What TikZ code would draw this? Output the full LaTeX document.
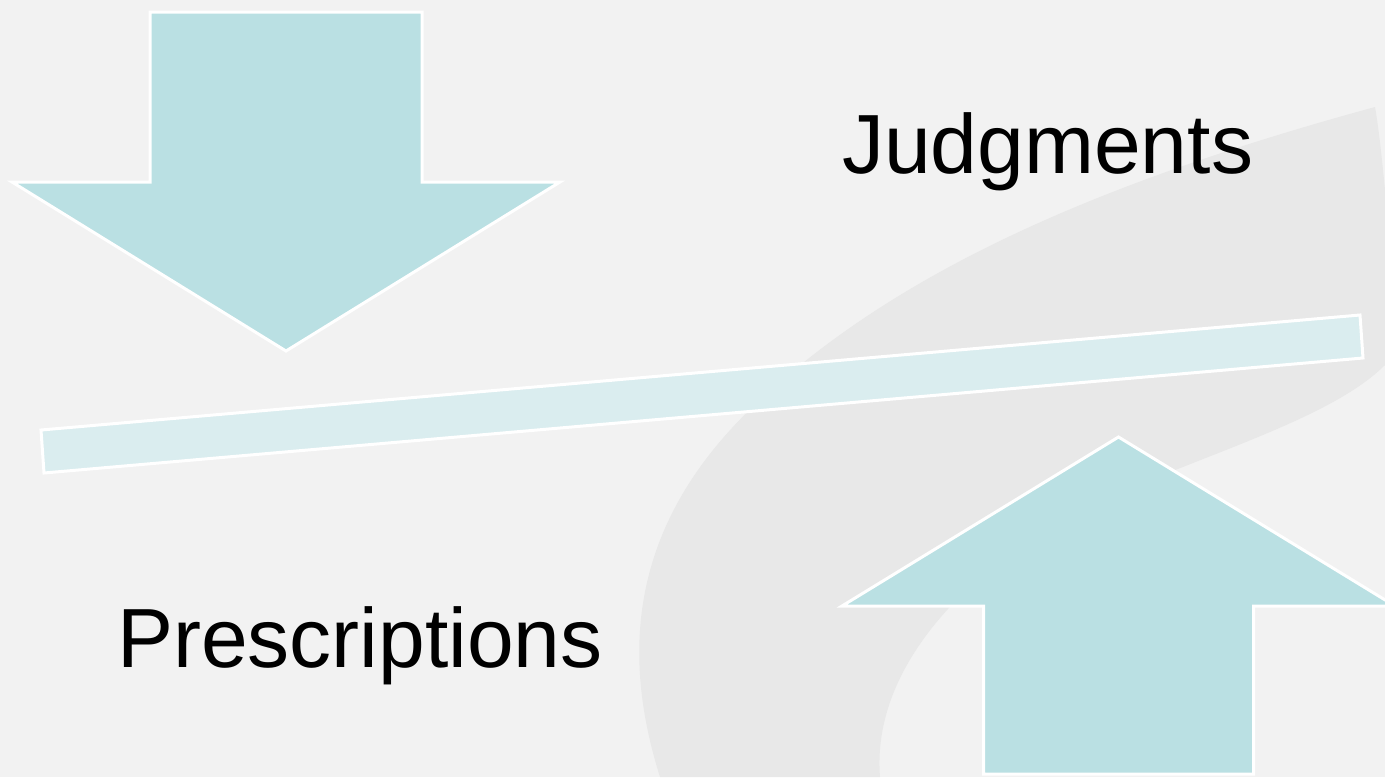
\documentclass[tikz,border=0pt]{standalone}
\usepackage{fontspec}
\setmainfont{Liberation Sans}
\definecolor{bg}{HTML}{F2F2F2}
\definecolor{swoosh}{HTML}{E8E8E8}
\definecolor{arrowfill}{HTML}{BAE0E3}
\definecolor{barfill}{HTML}{DAEDEF}
\tikzset{
  shapeline/.style={draw=white, line width=3pt, line join=miter},
  label/.style={font=\fontsize{84}{90}\selectfont, inner sep=0pt, text=black}
}
\begin{document}
\begin{tikzpicture}[x=1pt,y=-1pt]
\useasboundingbox (0,0) rectangle (1385,777);
\clip (0,0) rectangle (1385,777);
\fill[bg] (0,0) rectangle (1385,777);
% background swoosh
\fill[swoosh] (1375,107) .. controls (1379,130) and (1382,160) .. (1385,190) -- (1385,365)
  .. controls (1330,420) and (1200,455) .. (1080,510)
  .. controls (1000,550) and (870,650) .. (880,777)
  -- (660,777)
  .. controls (620,650) and (630,520) .. (760,400)
  .. controls (900,270) and (1100,182) .. (1375,107) -- cycle;
% down arrow
\filldraw[shapeline, fill=arrowfill] (150,12) -- (422,12) -- (422,182) -- (560,182)
  -- (286,351) -- (12,182) -- (150,182) -- cycle;
% tilted bar
\filldraw[shapeline, fill=barfill] (41,430) -- (1360,315) -- (1363,358) -- (44,473) -- cycle;
% up arrow
\filldraw[shapeline, fill=arrowfill] (1118.5,437) -- (1395,606) -- (1253.5,606) -- (1253.5,774)
  -- (983.5,774) -- (983.5,606) -- (842,606) -- cycle;
% texts
\node[label, anchor=base west] (judg) at (842,173) {Judgments};
\node[label, anchor=base west] (presc) at (117,667) {Prescriptions};
\end{tikzpicture}
\end{document}
